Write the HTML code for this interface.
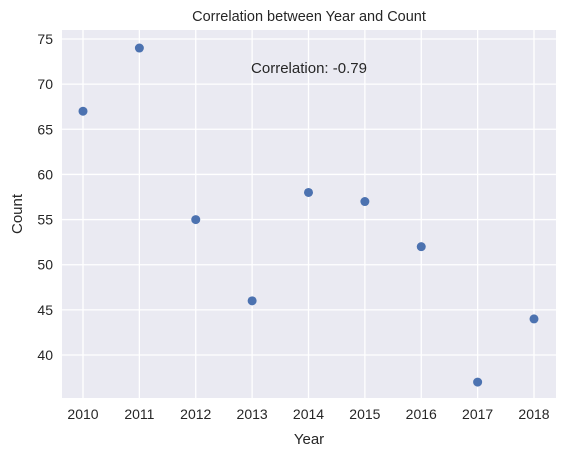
<!DOCTYPE html>
<html><head><meta charset="utf-8"><style>
body{margin:0;background:#fff;}
svg{font-family:"Liberation Sans","DejaVu Sans",sans-serif;}
</style></head><body>
<svg id="chart" width="566" height="457">
<rect x="62" y="30" width="494" height="368" fill="#eaeaf2"/>
<g id="grid"></g>
<g id="ticks"></g>
<g id="points"></g>
<text x="309" y="21" text-anchor="middle" font-size="14.5" fill="#262626">Correlation between Year and Count</text>
<text x="309" y="73" text-anchor="middle" font-size="15" fill="#262626">Correlation: -0.79</text>
<text x="309" y="444" text-anchor="middle" font-size="15" fill="#262626">Year</text>
<text x="22" y="214" text-anchor="middle" font-size="15" fill="#262626" transform="rotate(-90 22 214)">Count</text>
</svg>
<script>
const years=[2010,2011,2012,2013,2014,2015,2016,2017,2018];
const counts=[67,74,55,46,58,57,52,37,44];
const yTicks=[40,45,50,55,60,65,70,75];
const NS="http://www.w3.org/2000/svg";
function xs(v){return 83+(v-2010)*(534-83)/8;}
function ys(v){return 355-(v-40)*(355-39)/35;}
const grid=document.getElementById('grid'),ticks=document.getElementById('ticks'),pts=document.getElementById('points');
function mk(tag,attrs,parent){const e=document.createElementNS(NS,tag);for(const k in attrs)e.setAttribute(k,attrs[k]);parent.appendChild(e);return e;}
years.forEach(y=>{
  const l=mk('line',{x1:xs(y),x2:xs(y),y1:30,y2:398,stroke:'#fff','stroke-width':1.3},grid);
  
  
  const t=mk('text',{x:xs(y),y:419,'text-anchor':'middle','font-size':14,fill:'#262626'},ticks);
  t.textContent=y;
  
  
});
yTicks.forEach(v=>{
  const l=mk('line',{x1:62,x2:556,y1:ys(v),y2:ys(v),stroke:'#fff','stroke-width':1.3},grid);
  
  
  const t=mk('text',{x:53,y:ys(v)+5,'text-anchor':'end','font-size':14,fill:'#262626'},ticks);
  t.textContent=v;
  
  
});
years.forEach((y,i)=>{
  const c=mk('circle',{cx:xs(y),cy:ys(counts[i]),r:4.5,fill:'#4c72b0'},pts);
  
  
});
</script>
</body></html>
